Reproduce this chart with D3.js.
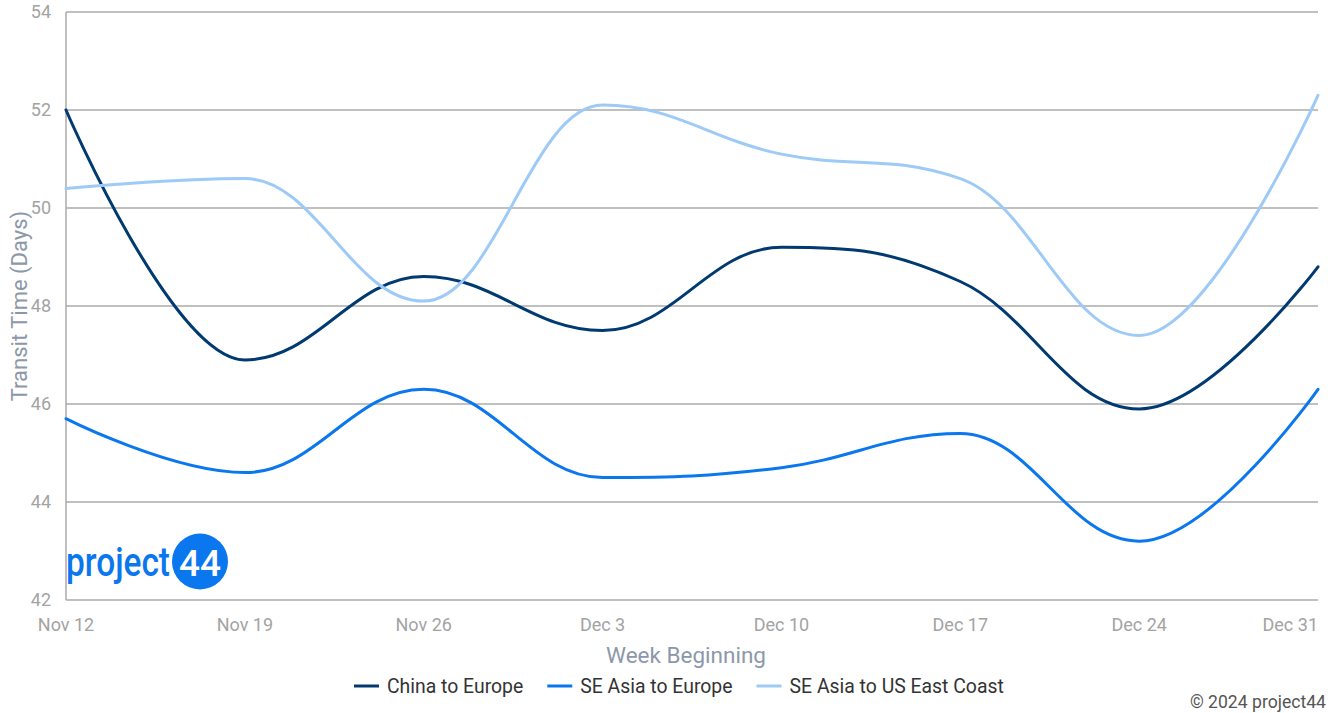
<!DOCTYPE html>
<html><head><meta charset="utf-8">
<script src="https://cdn.jsdelivr.net/npm/d3@7/dist/d3.min.js"></script>
<style>body{margin:0;background:#fff}svg{display:block;font-family:Roboto,"Noto Sans",sans-serif}</style>
</head><body><svg id="c" width="1334" height="713"></svg>
<script>
const weeks = ["Nov 12","Nov 19","Nov 26","Dec 3","Dec 10","Dec 17","Dec 24","Dec 31"];
const chinaEurope = [52.0, 46.9, 48.6, 47.5, 49.2, 48.5, 45.9, 48.8];
const seAsiaEurope = [45.7, 44.6, 46.3, 44.5, 44.7, 45.4, 43.2, 46.3];
const seAsiaUSEast = [50.4, 50.6, 48.1, 52.1, 51.1, 50.6, 47.4, 52.3];
const seriesNames = ["China to Europe","SE Asia to Europe","SE Asia to US East Coast"];
const seriesColors = ["#013a71","#0a77ee","#9ecaf7"];
const yTicks = [42,44,46,48,50,52,54];

const svg = d3.select("#c");
const pLeft = 66, pRight = 1318, pTop = 12, pBottom = 600;
const x = d3.scalePoint().domain(weeks).range([pLeft, pRight]);
const y = d3.scaleLinear().domain([42,54]).range([pBottom, pTop]);

// gridlines
svg.append("g").selectAll("line").data(yTicks).join("line")
  .attr("x1", pLeft).attr("x2", pRight)
  .attr("y1", d => y(d)).attr("y2", d => y(d))
  .attr("stroke", "#ababab").attr("stroke-width", 1.5);
svg.append("line").attr("x1", pLeft).attr("x2", pLeft).attr("y1", pTop).attr("y2", pBottom)
  .attr("stroke", "#ababab").attr("stroke-width", 1.5);

// y labels
svg.append("g").selectAll("text").data(yTicks).join("text")
  .attr("x", 51).attr("y", d => y(d) + 6)
  .attr("text-anchor", "end").attr("font-size", 18).attr("fill", "#a3a3a3")
  .text(d => d);
// x labels
svg.append("g").selectAll("text").data(weeks).join("text")
  .attr("x", (d,i) => i === weeks.length-1 ? pRight : x(d))
  .attr("y", 631)
  .attr("text-anchor", (d,i) => i === weeks.length-1 ? "end" : "middle")
  .attr("font-size", 18).attr("fill", "#a3a3a3")
  .text(d => d);

// axis titles
svg.append("text").attr("transform", `translate(27,${(pTop+pBottom)/2}) rotate(-90)`)
  .attr("text-anchor", "middle").attr("font-size", 22).attr("fill", "#8c98a9")
  .text("Transit Time (Days)");
svg.append("text").attr("x", 686).attr("y", 663)
  .attr("text-anchor", "middle").attr("font-size", 22.5).attr("fill", "#8c98a9")
  .text("Week Beginning");

// logo
const logo = svg.append("g");
logo.append("text").attr("transform", "translate(66,576) scale(1,1.25)")
  .attr("font-size", 32).attr("font-weight", 500).attr("fill", "#0a77ee")
  .attr("textLength", 104).attr("lengthAdjust", "spacingAndGlyphs")
  .text("project");
logo.append("circle").attr("cx", 200).attr("cy", 561.5).attr("r", 28).attr("fill", "#0a77ee");
logo.append("text").attr("transform", "translate(200,575.5) scale(1,1.1)").attr("text-anchor", "middle")
  .attr("font-size", 34).attr("font-weight", 500).attr("fill", "#fff")
  .attr("textLength", 42).attr("lengthAdjust", "spacingAndGlyphs")
  .text("44");

// Highcharts-style spline
function splinePath(vals) {
  const pts = vals.map((v,i) => ({px: x(weeks[i]), py: y(v)}));
  const p = d3.path();
  const sm = 1.5, den = sm + 1;
  pts.forEach((pt, i) => {
    if (i === 0) { p.moveTo(pt.px, pt.py); return; }
    const last = pts[i-1], next = pts[i+1];
    let lcx = pt.px, lcy = pt.py;
    if (next) {
      lcx = (sm*pt.px + last.px)/den; lcy = (sm*pt.py + last.py)/den;
      let rcx = (sm*pt.px + next.px)/den, rcy = (sm*pt.py + next.py)/den;
      let corr = 0;
      if (rcx !== lcx) corr = ((rcy - lcy)*(rcx - pt.px))/(rcx - lcx) + pt.py - rcy;
      lcy += corr; rcy += corr;
      if (lcy > last.py && lcy > pt.py) { lcy = Math.max(last.py, pt.py); rcy = 2*pt.py - lcy; }
      else if (lcy < last.py && lcy < pt.py) { lcy = Math.min(last.py, pt.py); rcy = 2*pt.py - lcy; }
      if (rcy > next.py && rcy > pt.py) { rcy = Math.max(next.py, pt.py); lcy = 2*pt.py - rcy; }
      else if (rcy < next.py && rcy < pt.py) { rcy = Math.min(next.py, pt.py); lcy = 2*pt.py - rcy; }
      pt.rcx = rcx; pt.rcy = rcy;
    }
    const c1x = last.rcx !== undefined ? last.rcx : last.px;
    const c1y = last.rcy !== undefined ? last.rcy : last.py;
    p.bezierCurveTo(c1x, c1y, lcx, lcy, pt.px, pt.py);
  });
  return p.toString();
}

const allSeries = [chinaEurope, seAsiaEurope, seAsiaUSEast];
svg.append("g").selectAll("path").data(allSeries).join("path")
  .attr("d", d => splinePath(d))
  .attr("fill", "none")
  .attr("stroke", (d,i) => seriesColors[i])
  .attr("stroke-width", 3)
  .attr("stroke-linecap", "round").attr("stroke-linejoin", "round");

// legend
const legend = svg.append("g");
const items = legend.selectAll("g").data(seriesNames).join("g");
items.append("line").attr("x1", 0).attr("x2", 25).attr("y1", 0).attr("y2", 0)
  .attr("stroke", (d,i) => seriesColors[i]).attr("stroke-width", 3);
items.append("text").attr("x", 33).attr("y", 7).attr("font-size", 19.4).attr("fill", "#333")
  .text(d => d);
let lx = 354;
items.each(function() {
  const w = d3.select(this).select("text").node().getComputedTextLength();
  d3.select(this).attr("transform", `translate(${lx},686)`);
  lx += 33 + w + 24;
});

// copyright
svg.append("text").attr("x", 1326).attr("y", 708).attr("text-anchor", "end")
  .attr("font-size", 17.6).attr("fill", "#555").text("© 2024 project44");
</script></body></html>
